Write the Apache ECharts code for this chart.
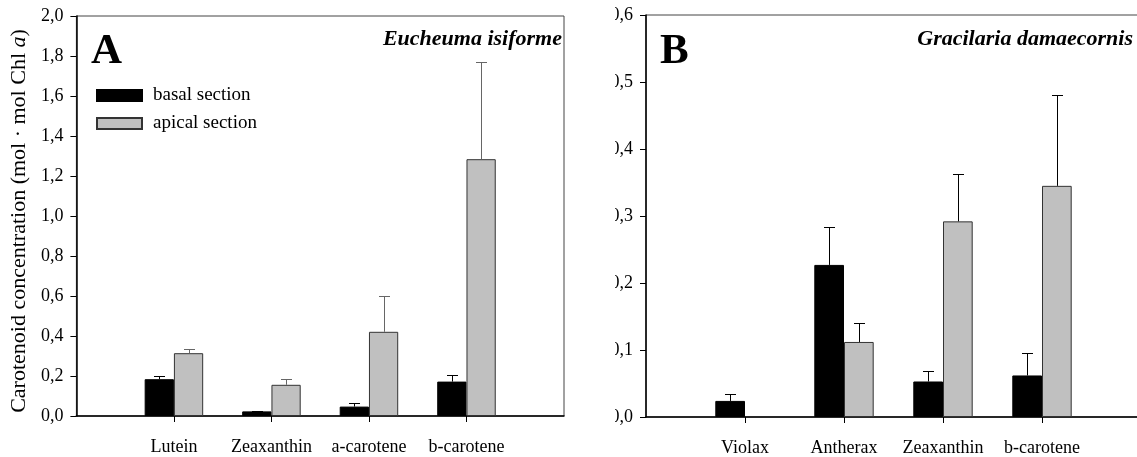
<!DOCTYPE html>
<html><head><meta charset="utf-8">
<script src="https://cdn.jsdelivr.net/npm/echarts@6/dist/echarts.min.js"></script>
<style>
html,body{margin:0;padding:0;background:#fff;width:1137px;height:457px;overflow:hidden;}
#a{position:absolute;left:0;top:0;width:570px;height:457px;}
#bwrap{position:absolute;left:615px;top:0;width:522px;height:457px;overflow:hidden;}
#b{position:absolute;left:-45px;top:0;width:600px;height:457px;}
</style></head><body>
<div id="a"></div><div id="bwrap"><div id="b"></div></div>
<script>
// Panel A: Eucheuma isiforme
const catsA = ['Lutein', 'Zeaxanthin', 'a-carotene', 'b-carotene'];
const basalA = [0.184, 0.023, 0.047, 0.172];
const basalErrA = [0.017, 0.004, 0.017, 0.035];
const apicalA = [0.314, 0.156, 0.421, 1.284];
const apicalErrA = [0.022, 0.030, 0.181, 0.485];
const yTicksA = ['0,0', '0,2', '0,4', '0,6', '0,8', '1,0', '1,2', '1,4', '1,6', '1,8', '2,0'];

// Panel B: Gracilaria damaecornis
const catsB = ['Violax', 'Antherax', 'Zeaxanthin', 'b-carotene'];
const basalB = [0.024, 0.227, 0.053, 0.062];
const basalErrB = [0.010, 0.057, 0.016, 0.033];
const apicalB = [null, 0.112, 0.292, 0.345];
const apicalErrB = [null, 0.028, 0.071, 0.136];
const yTicksB = ['0,0', '0,1', '0,2', '0,3', '0,4', '0,5', '0,6'];

const FF = '"Liberation Serif", "Times New Roman", serif';

function errSeries(vals, errs, side, color) {
  const data = [];
  vals.forEach((v, i) => { if (v != null) data.push([i + 1, v, errs[i]]); });
  return {
    type: 'custom', silent: true, z: 5, data: data,
    renderItem(params, api) {
      const x = api.value(0), v = api.value(1), e = api.value(2);
      const bw = api.size([1, 0])[0];
      const p0 = api.coord([x, v]);
      const p1 = api.coord([x, v + e]);
      const cx = Math.round(p0[0] + side * bw * 0.15) + 0.5;
      const y1 = Math.round(p1[1]) + 0.5;
      const hw = 5.5;
      return { type: 'group', children: [
        { type: 'line', shape: { x1: cx, y1: p0[1], x2: cx, y2: y1 }, style: { stroke: color, lineWidth: 1 } },
        { type: 'line', shape: { x1: cx - hw, y1: y1, x2: cx + hw, y2: y1 }, style: { stroke: color, lineWidth: 1 } }
      ]};
    }
  };
}

function makeOption(cfg) {
  const xData = [''].concat(cfg.cats, ['']);
  const n = xData.length;
  const pad = a => [null].concat(a, [null]);
  return {
    animation: false,
    backgroundColor: '#fff',
    textStyle: { fontFamily: FF },
    grid: { left: cfg.gl, right: cfg.gr, top: cfg.gt, bottom: cfg.gb, show: true, borderColor: '#444', borderWidth: 1 },
    legend: cfg.legend ? {
      data: ['basal section', 'apical section'], orient: 'vertical', left: 91, top: 81,
      icon: 'rect', itemWidth: 45, itemHeight: 11, itemGap: 9,
      textStyle: { fontFamily: FF, fontSize: 19, color: '#000', padding: [0, 0, 0, 6] }
    } : { show: false },
    xAxis: {
      type: 'category', data: xData, boundaryGap: false,
      axisLine: { lineStyle: { color: '#000', width: 1.5 } },
      axisTick: { show: true, length: 6, interval: (i) => i > 0 && i < n - 1, lineStyle: { color: '#000' } },
      axisLabel: { interval: 0, margin: 22, color: '#000', fontFamily: FF, fontSize: 18 },
      splitLine: { show: false }
    },
    yAxis: {
      type: 'value', min: 0, max: cfg.ymax, interval: cfg.yint,
      axisLine: { show: true, lineStyle: { color: '#000', width: 1.5 } },
      axisTick: { show: true, length: 6, lineStyle: { color: '#000' } },
      axisLabel: { margin: 13, color: '#000', fontFamily: FF, fontSize: 18,
        formatter: v => cfg.ticks[Math.round(v / cfg.yint)] },
      splitLine: { show: false },
      name: cfg.yname || '', nameLocation: 'middle', nameGap: 46, nameRotate: 90,
      nameTextStyle: { color: '#000', fontFamily: FF, fontSize: 22, padding: [0, 10, 0, 0],
        rich: { n: { fontFamily: FF, fontSize: 22, color: '#000' }, i: { fontFamily: FF, fontSize: 22, fontStyle: 'italic', color: '#000' } } }
    },
    graphic: [
      { type: 'text', left: cfg.letterX, top: 30, style: { text: cfg.letter, font: 'bold 43px ' + FF, fill: '#000' } },
      { type: 'text', right: cfg.titleR, top: 28, style: { text: cfg.title, font: 'italic bold 22px ' + FF, fill: '#000' } }
    ],
    series: [
      { type: 'bar', name: 'basal section', data: pad(cfg.basal), barWidth: '30%', barGap: '0%',
        itemStyle: { color: '#000', borderColor: '#000', borderWidth: 1 } },
      { type: 'bar', name: 'apical section', data: pad(cfg.apical), barWidth: '30%', barGap: '0%',
        itemStyle: { color: '#c0c0c0', borderColor: '#333', borderWidth: 1 } },
      errSeries(cfg.basal, cfg.basalErr, -1, '#000'),
      errSeries(cfg.apical, cfg.apicalErr, 1, cfg.apErrColor)
    ]
  };
}

const chartA = echarts.init(document.getElementById('a'), null, { renderer: 'canvas' });
chartA.setOption(makeOption({
  cats: catsA, basal: basalA, basalErr: basalErrA, apical: apicalA, apicalErr: apicalErrA,
  ticks: yTicksA, ymax: 2.0, yint: 0.2, gl: 76, gr: 6, gt: 16, gb: 41, legend: true,
  yname: '{n|Carotenoid concentration (mol · mol Chl }{i|a}{n|)}',
  letter: 'A', letterX: 91, title: 'Eucheuma isiforme', titleR: 8, apErrColor: '#666'
}));

const chartB = echarts.init(document.getElementById('b'), null, { renderer: 'canvas' });
chartB.setOption(makeOption({
  cats: catsB, basal: basalB, basalErr: basalErrB, apical: apicalB, apicalErr: apicalErrB,
  ticks: yTicksB, ymax: 0.6, yint: 0.1, gl: 76, gr: 29, gt: 15, gb: 40, legend: false,
  yname: '', letter: 'B', letterX: 90, title: 'Gracilaria damaecornis', titleR: 37, apErrColor: '#000'
}));
</script>
</body></html>
